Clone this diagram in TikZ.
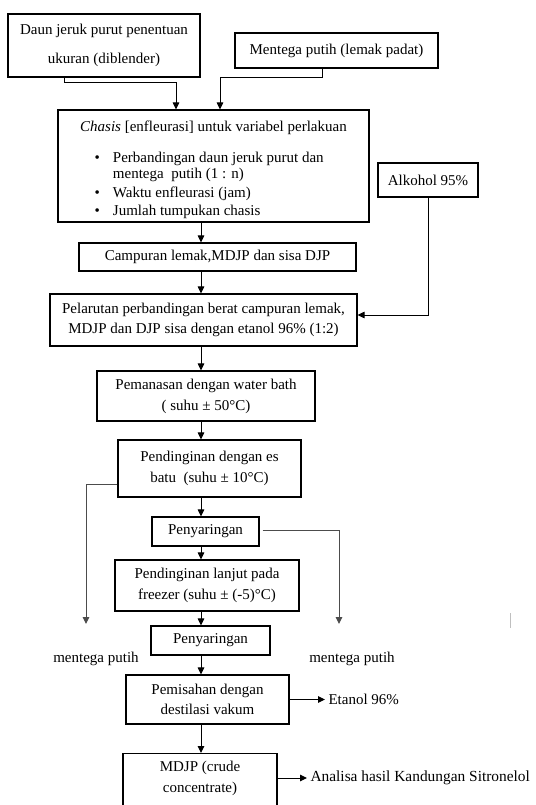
\documentclass[tikz,border=0pt]{standalone}
\usepackage{fontspec}
\setmainfont{Liberation Serif}
\usetikzlibrary{arrows.meta}

\begin{document}
\begin{tikzpicture}[x=1pt,y=-1pt,
    font=\fontsize{15}{21}\selectfont,
    box/.style={draw,line width=1.1pt,align=center,inner sep=2pt},
    arr/.style={line width=1pt,-{Triangle[length=7pt,width=6.5pt]}},
    side/.style={arr,draw=black!70}]
    \fill[white] (0,0) rectangle (535,805);
    \useasboundingbox (0,0) rectangle (535,805);

    % inputs
    \node[box,minimum width=192,minimum height=63,font=\fontsize{15}{29}\selectfont] (leaf) at (104,45.5) {Daun jeruk purut penentuan\\ukuran (diblender)};
    \node[box,minimum width=203,minimum height=35] (butter) at (336.5,50.5) {Mentega putih (lemak padat)};

    % chasis box
    \node[box,minimum width=311,minimum height=112] (chasis) at (213.5,166) {};
    \node (chasistitle) at (213.5,127) {\textit{Chasis} [enfleurasi] untuk variabel perlakuan\strut};
    \node[anchor=base west,inner sep=0pt,font=\fontsize{15}{16}\selectfont] (chasislist) at (94.5,163) {%
      \begin{tabular}[t]{@{}l@{\hspace{13pt}}l@{}}
        \textbullet & Perbandingan daun jeruk purut dan\\
                    & mentega\ \ putih (1 : n)\\[3pt]
        \textbullet & Waktu enfleurasi (jam)\\[2pt]
        \textbullet & Jumlah tumpukan chasis
      \end{tabular}};
    \node[box,minimum width=100,minimum height=34] (alcohol) at (428,180) {Alkohol 95\%};

    % main line
    \node[box,minimum width=277,minimum height=28] (mix) at (217.5,257) {Campuran lemak,MDJP dan sisa DJP};
    \node[box,minimum width=307,minimum height=52,font=\fontsize{15}{20}\selectfont] (dissolve) at (203.5,320) {Pelarutan perbandingan berat campuran lemak,\\MDJP dan DJP sisa dengan etanol 96\% (1:2)};
    \node[box,minimum width=218,minimum height=50] (heat) at (206,396) {Pemanasan dengan water bath\\( suhu ± 50°C)};
    \node[box,minimum width=183,minimum height=57] (ice) at (209.5,468.5) {Pendinginan dengan es\\batu\ \ (suhu ± 10°C)};
    \node[box,minimum width=107,minimum height=29] (filterA) at (205.5,531.5) {Penyaringan};
    \node[box,minimum width=184,minimum height=51] (freezer) at (207,585.5) {Pendinginan lanjut pada\\freezer (suhu ± (-5)°C)};
    \node[box,minimum width=119,minimum height=29] (filterB) at (210.5,640.5) {Penyaringan};
    \node[box,minimum width=163,minimum height=49,font=\fontsize{15}{20}\selectfont] (distil) at (207.5,699.5) {Pemisahan dengan\\destilasi vakum};
    \node[box,anchor=north,minimum width=154,inner ysep=8pt] (crude) at (200,753) {MDJP (crude\\concentrate)\\\strut};

    % outputs
    \node (butterL) at (96,659) {mentega putih};
    \node (butterR) at (352,659) {mentega putih};
    \node[anchor=west] (ethanol) at (325,699.5) {Etanol 96\%};
    \node[anchor=west,font=\fontsize{15.4}{21}\selectfont] (analysis) at (307,778) {Analisa hasil Kandungan Sitronelol};
    \coordinate (spine) at (201,0);
    \coordinate (endL) at (86,624);
    \coordinate (endR) at (339,624);

    % connectors
    \draw[arr] ([xshift=-40pt]leaf.south) -- ++(0,5) -| ([xshift=-37.5pt]chasis.north);
    \draw[arr] ([xshift=-14.5pt]butter.south) -- ++(0,9) -| ([xshift=6.5pt]chasis.north);
    \foreach \a/\b in {chasis/mix,mix/dissolve,dissolve/heat,heat/ice,ice/filterA,
                       filterA/freezer,freezer/filterB,filterB/distil,distil/crude}
      \draw[arr] (\a.south -| spine) -- (\b.north -| spine);
    \draw[arr] (alcohol.south) |- ([yshift=5pt]dissolve.east);
    \draw[side] ([yshift=-15.5pt]ice.west) -| (endL);
    \draw[side] ([xshift=3pt,yshift=1.5pt]filterA.east) -| (endR);
    \draw[arr] (distil.east) -- (ethanol.west);
    \draw[arr] (crude.east |- analysis.west) -- (analysis.west);

    \draw[black!25,line width=1pt] (510,613) -- (510,628);
  \end{tikzpicture}
\end{document}
